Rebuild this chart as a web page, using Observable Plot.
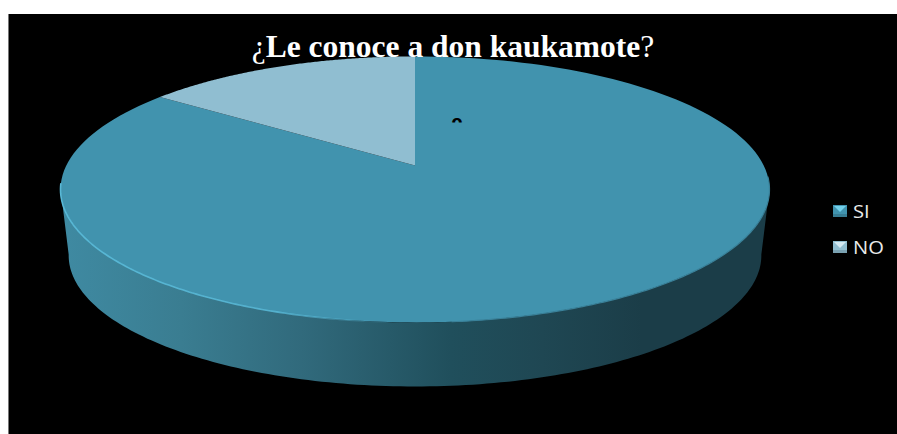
<!DOCTYPE html>
<html><head><meta charset="utf-8">
<script src="https://cdn.jsdelivr.net/npm/d3@7"></script>
<script src="https://cdn.jsdelivr.net/npm/@observablehq/plot@0.6"></script>
<style>
html,body{margin:0;padding:0;background:#fff;overflow:hidden}
#stage{position:relative;width:897px;height:434px;overflow:hidden}
#frame{position:absolute;left:8px;top:14px;width:889px;height:420px;background:#000;border-left:1px solid #777;box-sizing:border-box}
#chart{position:absolute;left:9px;top:14px}
#title{position:absolute;left:9px;width:888px;top:31px;text-align:center;font:400 31.5px/32px "Liberation Serif",serif;color:#fff;white-space:nowrap}
.item{position:absolute;left:833px;height:14px;display:flex;align-items:center}
.item svg{display:block}
.item span{margin-left:6px;font:400 17.5px/14px "Open Sans",sans-serif;color:#eaeaea;transform:scaleX(1.15);transform-origin:left center}
</style></head><body>
<div id="stage"><div id="frame"></div><div id="chart"></div>
<div id="title">¿<b>Le conoce a don kaukamote</b>?</div></div>
<script>
const categories = ["SI", "NO"];
const shares = [85, 15];
const sliceColors = ["#4193ae", "#90bed1"];
const highlightColors = ["#72d0ea", "#d4eaf3"];
const legendTops = [204, 240];
const truncatedLabel = "ᴖ";

const W = 888, H = 420;
const k = 0.18, A = 348.7, B = 128.7, cx = 405.5, cy = 151;
const toTop = t => {
  const u = Math.sin(t), v = Math.cos(t), d = 1 + k * v;
  return {x: u / d, y: v / d};
};
const midY = -0.1865, drop = 66 / B;
const toBottom = t => {
  const p = toTop(t);
  return {x: p.x * 0.977, y: midY - drop + (p.y - midY) * 0.985};
};
const rad = d => d * Math.PI / 180;
const sweep = (a0, a1, n, f) => d3.range(n + 1).map(i => f(a0 + (a1 - a0) * i / n));

const slices = d3.pie().sort(null).value(d => d.share)(categories.map((c, i) => ({c, share: shares[i]})));
const sliceRows = slices.flatMap(s => [
  {x: 0, y: 0, c: s.data.c},
  ...sweep(s.startAngle, s.endAngle, 160, toTop).map(p => ({...p, c: s.data.c}))
]);
const sideRows = [
  ...sweep(rad(100), rad(260), 160, toTop),
  ...sweep(rad(260), rad(100), 160, toBottom)
];
const rimRows = sweep(rad(262), rad(183), 120, toTop);
const edgeRows = sweep(rad(175), rad(95), 120, toTop);

const defs = () => {
  const s = d3.create("svg:defs");
  const side = s.append("linearGradient").attr("id", "sideGrad");
  [[0,"#3f8aa2"],[0.17,"#3a7d91"],[0.34,"#316a7c"],[0.55,"#204f5c"],[0.68,"#1f4753"],[0.82,"#1b3d48"],[1,"#1b3d48"]]
    .forEach(([o,c]) => side.append("stop").attr("offset", o).attr("stop-color", c));
  const rim = s.append("linearGradient").attr("id", "rimGrad");
  [[0,"#58b8d6",1],[0.65,"#58b8d6",0.9],[1,"#58b8d6",0]]
    .forEach(([o,c,a]) => rim.append("stop").attr("offset", o).attr("stop-color", c).attr("stop-opacity", a));
  return s.node();
};

const plot = Plot.plot({
  width: W, height: H, margin: 0,
  style: {background: "transparent", display: "block"},
  x: {domain: [-cx / A, (W - cx) / A], axis: null},
  y: {domain: [(cy - H) / B, cy / B], axis: null},
  color: {domain: categories, range: sliceColors},
  marks: [
    defs,
    Plot.line(sideRows, {x: "x", y: "y", fill: "url(#sideGrad)", stroke: "none", curve: "linear"}),
    Plot.line(sliceRows, {x: "x", y: "y", fill: "c", stroke: "none", curve: "linear"}),
    Plot.line(edgeRows, {x: "x", y: "y", stroke: "#3a8199", strokeWidth: 1.2, curve: "linear"}),
    Plot.line(rimRows, {x: "x", y: "y", stroke: "url(#rimGrad)", strokeWidth: 1.6, curve: "linear"}),
    Plot.text([truncatedLabel], {frameAnchor: "top-left", dx: 442, dy: 101, text: d => d,
      fill: "#000", fontSize: 16, fontWeight: 700, fontFamily: "DejaVu Sans"})
  ]
});
document.getElementById("chart").append(plot);

const stage = document.getElementById("stage");
categories.forEach((c, i) => {
  const it = document.createElement("div");
  it.className = "item";
  it.style.top = legendTops[i] + "px";
  it.innerHTML = `<svg width="14" height="12"><rect width="14" height="12" fill="${sliceColors[i]}"/>
    <rect x="0" y="9" width="14" height="3" fill="#000" opacity=".15"/>
    <polygon points="1,1 13,1 7,7" fill="${highlightColors[i]}"/></svg><span>${c}</span>`;
  stage.append(it);
});
</script>
</body></html>
